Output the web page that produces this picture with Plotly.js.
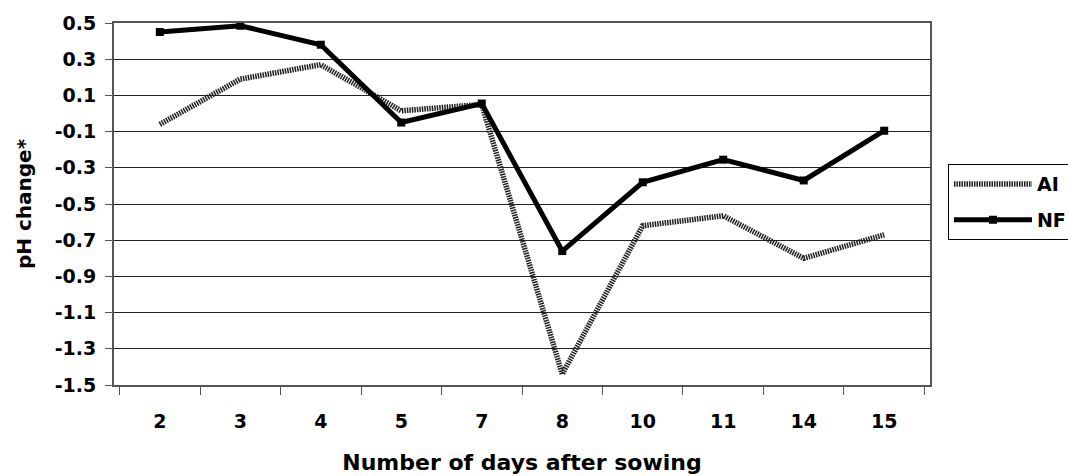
<!DOCTYPE html>
<html>
<head>
<meta charset="utf-8">
<script src="https://cdn.plot.ly/plotly-3.0.1.min.js"></script>
<style>html,body{margin:0;padding:0;background:#fff;overflow:hidden}#chart{width:1068px;height:476px}</style>
</head>
<body>
<div id="chart"></div>
<script>
var days = ['2', '3', '4', '5', '7', '8', '10', '11', '14', '15'];
var aiValues = [-0.06, 0.19, 0.27, 0.015, 0.05, -1.44, -0.62, -0.565, -0.80, -0.67];
var nfValues = [0.45, 0.485, 0.38, -0.05, 0.055, -0.76, -0.38, -0.255, -0.37, -0.095];
var yTickValues = [-1.5, -1.3, -1.1, -0.9, -0.7, -0.5, -0.3, -0.1, 0.1, 0.3, 0.5];
var yTickLabels = ['-1.5', '-1.3', '-1.1', '-0.9', '-0.7', '-0.5', '-0.3', '-0.1', '0.1', '0.3', '0.5'];

var fontFam = 'DejaVu Sans, Liberation Sans, sans-serif';

var traces = [
  {
    x: days, y: aiValues, name: 'AI', type: 'scatter', mode: 'lines',
    legendgroup: 'ai',
    line: {color: '#1e1e1e', width: 5.5, dash: '1.5px,1px'}
  },
  {
    x: days, y: nfValues, name: 'NF', type: 'scatter', mode: 'lines+markers',
    legendgroup: 'nf',
    line: {color: '#000000', width: 5},
    marker: {symbol: 'square', size: 8, color: '#000000'}
  }
];

var layout = {
  width: 1068, height: 476,
  margin: {l: 114, r: 138, t: 23, b: 91, autoexpand: false},
  paper_bgcolor: '#ffffff', plot_bgcolor: '#ffffff',
  font: {family: fontFam, size: 19, color: '#000000', weight: 'bold'},
  showlegend: true,
  legend: {
    x: 1.022, xanchor: 'left', y: 0.61, yanchor: 'top',
    bordercolor: '#000000', borderwidth: 1, bgcolor: '#ffffff',
    traceorder: 'grouped', tracegroupgap: 8, itemwidth: 78,
    font: {family: fontFam, size: 19, color: '#000000', weight: 'bold'}
  },
  xaxis: {
    type: 'category',
    showgrid: false,
    showline: true, linecolor: '#555555', linewidth: 2, mirror: true,
    ticks: 'outside', tickson: 'boundaries', ticklen: 8, tickcolor: '#555555', tickwidth: 1,
    ticklabelstandoff: 18,
    tickfont: {family: fontFam, size: 19, weight: 'bold'},
    title: {text: 'Number of days after sowing', font: {family: fontFam, size: 22, weight: 'bold'}, standoff: 24},
    zeroline: false
  },
  yaxis: {
    range: [-1.5, 0.5],
    tickvals: yTickValues, ticktext: yTickLabels,
    showgrid: true, gridcolor: '#222222', gridwidth: 1,
    showline: true, linecolor: '#555555', linewidth: 2, mirror: true,
    ticks: 'outside', ticklen: 7, tickcolor: '#555555', tickwidth: 1,
    ticklabelstandoff: 5,
    tickfont: {family: fontFam, size: 19, weight: 'bold'},
    title: {text: 'pH change*', font: {family: fontFam, size: 20, weight: 'bold'}, standoff: 18},
    zeroline: false
  }
};

Plotly.newPlot('chart', traces, layout, {displayModeBar: false, staticPlot: true});
</script>
</body>
</html>
